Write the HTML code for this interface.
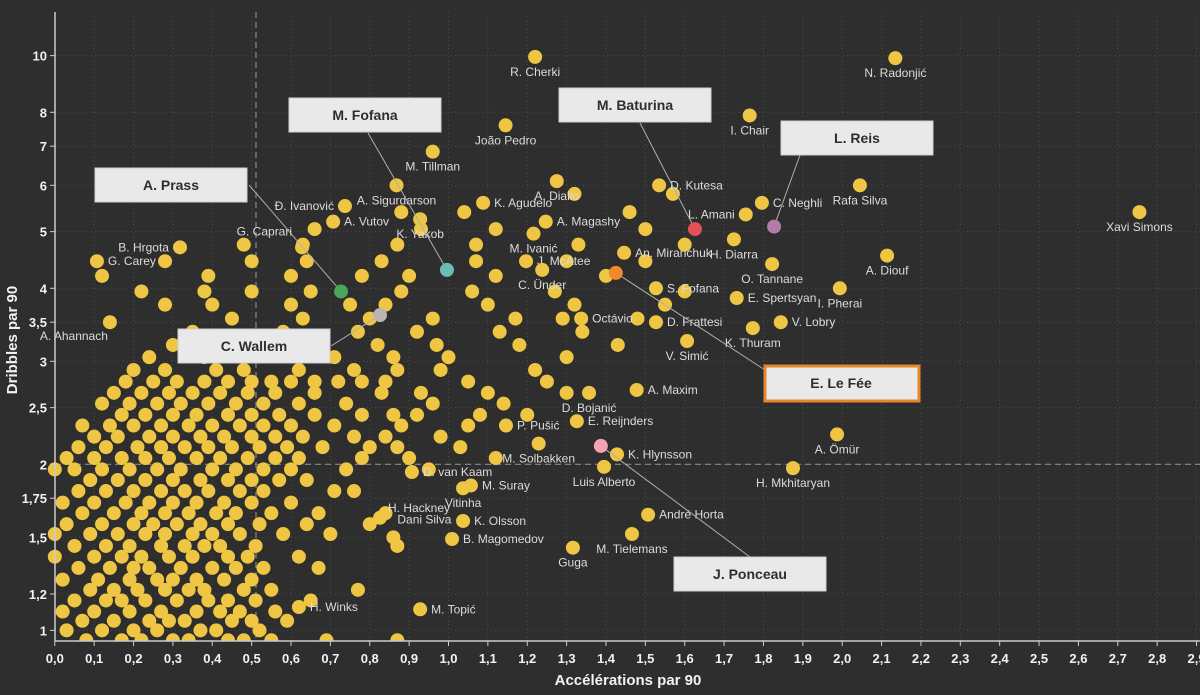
<!DOCTYPE html>
<html><head><meta charset="utf-8">
<style>
html,body{margin:0;padding:0;background:#2e2e2e;}
svg{display:block;font-family:"Liberation Sans",sans-serif;}
.tick{fill:#f2f2f2;font-weight:bold;font-size:13px;}
.plab{fill:#dcdcdc;font-size:12px;}
.box{fill:#e9e9e9;}
.boxt{fill:#2e2e2e;font-weight:bold;font-size:14px;text-anchor:middle;}
</style></head>
<body>
<svg id="chart" width="1200" height="695" viewBox="0 0 1200 695">
<rect width="1200" height="695" fill="#2e2e2e"/>
<defs><clipPath id="pc"><rect x="0" y="0" width="1200" height="641"/></clipPath></defs>
<g id="grid"></g>
<g id="ref"></g>
<g id="cloud" clip-path="url(#pc)"></g>
<g id="named"></g>
<g id="ann"></g>
<g id="axes"></g>
<text x="628" y="685" fill="#f2f2f2" font-weight="bold" font-size="15" text-anchor="middle">Accélérations par 90</text>
<text transform="translate(17,340) rotate(-90)" fill="#f2f2f2" font-weight="bold" font-size="15" text-anchor="middle">Dribbles par 90</text>
</svg>
<script>
const xTicks=[0,0.1,0.2,0.3,0.4,0.5,0.6,0.7,0.8,0.9,1,1.1,1.2,1.3,1.4,1.5,1.6,1.7,1.8,1.9,2,2.1,2.2,2.3,2.4,2.5,2.6,2.7,2.8,2.9];
const yTicks=[1.04,1.2,1.5,1.75,2,2.5,3,3.5,4,5,6,7,8,10];
const yTickLabels=["1","1,2","1,5","1,75","2","2,5","3","3,5","4","5","6","7","8","10"];
const refX=0.511, refY=2;
const cloudRows=[
[1.0,[0.08,0.17,0.22,0.3,0.34,0.44,0.48,0.55,0.69,0.87]],
[1.04,[0.03,0.12,0.2,0.26,0.37,0.41,0.52]],
[1.08,[0.07,0.15,0.24,0.29,0.33,0.45,0.5,0.59]],
[1.12,[0.02,0.1,0.19,0.27,0.36,0.42,0.47,0.56]],
[1.17,[0.05,0.13,0.17,0.23,0.31,0.39,0.44,0.51,0.65]],
[1.22,[0.09,0.15,0.21,0.28,0.34,0.38,0.48,0.55,0.77]],
[1.27,[0.02,0.11,0.19,0.26,0.3,0.36,0.43,0.5]],
[1.33,[0.06,0.14,0.2,0.24,0.32,0.4,0.46,0.53,0.67]],
[1.39,[0.0,0.1,0.17,0.22,0.29,0.35,0.44,0.49,0.62]],
[1.45,[0.05,0.13,0.19,0.27,0.33,0.38,0.42,0.51,0.87]],
[1.52,[0.0,0.09,0.16,0.23,0.28,0.35,0.4,0.47,0.58,0.7]],
[1.58,[0.03,0.12,0.2,0.25,0.31,0.37,0.44,0.52,0.64,0.8]],
[1.65,[0.07,0.15,0.22,0.28,0.34,0.41,0.46,0.55,0.67,0.84]],
[1.72,[0.02,0.1,0.18,0.24,0.3,0.36,0.43,0.5,0.6]],
[1.8,[0.06,0.13,0.2,0.27,0.33,0.39,0.47,0.53,0.71,0.76]],
[1.88,[0.09,0.16,0.23,0.3,0.37,0.44,0.5,0.57,0.64]],
[1.96,[0.0,0.05,0.12,0.19,0.26,0.32,0.4,0.46,0.53,0.6,0.74,0.95]],
[2.05,[0.03,0.1,0.17,0.23,0.29,0.36,0.42,0.49,0.56,0.62,0.78,0.9,1.12]],
[2.14,[0.06,0.13,0.21,0.27,0.33,0.39,0.45,0.52,0.59,0.68,0.8,0.87,1.03]],
[2.23,[0.1,0.16,0.24,0.3,0.37,0.43,0.5,0.56,0.63,0.76,0.84,0.98]],
[2.33,[0.07,0.14,0.2,0.27,0.34,0.4,0.47,0.53,0.6,0.71,0.88,1.05]],
[2.43,[0.17,0.23,0.3,0.36,0.44,0.5,0.57,0.66,0.78,0.86,0.92,1.08,1.2]],
[2.54,[0.12,0.19,0.26,0.32,0.39,0.46,0.53,0.62,0.74,0.96,1.14]],
[2.65,[0.15,0.22,0.29,0.35,0.42,0.49,0.56,0.66,0.83,0.93,1.1,1.3]],
[2.77,[0.18,0.25,0.31,0.38,0.44,0.5,0.55,0.6,0.66,0.72,0.78,0.84,1.05,1.25]],
[2.9,[0.2,0.28,0.41,0.48,0.62,0.76,0.87,0.98,1.22]],
[3.05,[0.24,0.38,0.62,0.71,0.86,1.0,1.3]],
[3.2,[0.3,0.46,0.66,0.82,0.97,1.18,1.43]],
[3.37,[0.35,0.58,0.77,0.92,1.13,1.34]],
[3.55,[0.45,0.63,0.8,0.96,1.17,1.29,1.48]],
[3.75,[0.28,0.4,0.6,0.75,0.84,1.1,1.32,1.55]],
[3.95,[0.22,0.38,0.5,0.65,0.88,1.06,1.27,1.6]],
[4.2,[0.12,0.39,0.6,0.78,0.9,1.12,1.4]],
[4.45,[0.28,0.5,0.64,0.83,1.07,1.3,1.5]],
[4.75,[0.48,0.63,0.87,1.07,1.33,1.6]],
[5.05,[0.66,0.93,1.12,1.5]],
[5.4,[0.88,1.04,1.46]],
[5.8,[1.32,1.57]]
];
const names=["R. Cherki","N. Radonjić","I. Chair","João Pedro","M. Tillman","D. Kutesa","Rafa Silva","A. Diallo","Xavi Simons","A. Sigurdarson","Đ. Ivanović","A. Vutov","K. Agudelo","K. Yakob","A. Magashy","C. Neghli","L. Amani","G. Caprari","B. Hrgota","G. Carey","A. Ahannach","M. Ivanić","H. Diarra","An. Miranchuk","A. Diouf","O. Tannane","J. McAtee","C. Ünder","S. Fofana","E. Spertsyan","I. Pherai","Octávio","D. Frattesi","V. Lobry","K. Thuram","V. Simić","D. Bojanić","A. Maxim","E. Reijnders","P. Pušić","K. Hlynsson","M. Solbakken","A. Ömür","H. Mkhitaryan","D. van Kaam","Luis Alberto","M. Suray","Vitinha","H. Hackney","Dani Silva","K. Olsson","André Horta","B. Magomedov","Guga","M. Tielemans","H. Winks","M. Topić"];
const nameX=[1.22,2.135,1.765,1.145,0.96,1.535,2.045,1.275,2.755,0.868,0.737,0.707,1.088,0.928,1.247,1.796,1.755,0.628,0.318,0.107,0.14,1.216,1.725,1.446,2.114,1.822,1.197,1.238,1.527,1.732,1.994,1.337,1.527,1.844,1.773,1.606,1.357,1.478,1.326,1.146,1.428,1.229,1.987,1.875,0.907,1.395,1.057,1.037,0.826,0.86,1.037,1.507,1.009,1.316,1.466,0.62,0.928];
const nameY=[9.95,9.9,7.9,7.6,6.85,6.0,6.0,6.1,5.4,6.0,5.53,5.2,5.6,5.25,5.2,5.6,5.35,4.7,4.7,4.45,3.5,4.96,4.85,4.6,4.55,4.4,4.45,4.3,4.0,3.85,4.0,3.55,3.5,3.5,3.42,3.25,2.65,2.68,2.37,2.33,2.08,2.17,2.25,1.97,1.94,1.98,1.84,1.82,1.62,1.5,1.6,1.64,1.49,1.44,1.52,1.14,1.13];
const nameAnchor=["b","b","b","b","b","r","b","b","b","b","l","r","r","b","r","r","l","ul","l","r","bl","b","b","r","b","b","r","b","r","r","b","r","r","r","b","b","b","r","r","r","r","b","b","b","r","b","r","b","ur","u","r","r","r","b","b","r","r"];
const hiNames=["A. Prass","M. Fofana","M. Baturina","L. Reis","C. Wallem","E. Le Fée","J. Ponceau"];
const hiX=[0.727,0.996,1.626,1.827,0.826,1.425,1.387];
const hiY=[3.95,4.3,5.05,5.1,3.6,4.25,2.15];
const hiColor=["#4aa55a","#6bbcb4","#e05258","#b47aa8","#bdb3b1","#f08a2a","#f5a3b3"];
const boxX=[95,289,559,781,178,765,674], boxY=[168,98,88,121,329,366,557];
const lineFromX=[249,368,640,800,331,765,750], lineFromY=[185,133,123,155,346,370,557];

const NS="http://www.w3.org/2000/svg";
const X=v=>54.8+393.7*v;
const Y=v=>464.3-584.7*Math.log10(v/2);
function mk(tag,attrs,parent){const e=document.createElementNS(NS,tag);for(const k in attrs)e.setAttribute(k,attrs[k]);parent.appendChild(e);return e;}
const grid=document.getElementById('grid'),axes=document.getElementById('axes'),cloud=document.getElementById('cloud'),named=document.getElementById('named'),ann=document.getElementById('ann'),ref=document.getElementById('ref');
const DOT="#eec643";
xTicks.forEach((t,i)=>{
  const x=X(t);
  const g=mk('line',{x1:x,x2:x,y1:12,y2:641,stroke:'#4a4a4a','stroke-dasharray':'1,3'},grid);
  
  
  const tk=mk('line',{x1:x,x2:x,y1:641,y2:646,stroke:'#ccc'},axes);
  
  
  const tx=mk('text',{x:x,y:663,'text-anchor':'middle',class:'tick'},axes);
  tx.textContent=t.toFixed(1).replace('.',',');
  
  
});
yTicks.forEach((t,i)=>{
  const y=Y(t);
  const g=mk('line',{x1:55,x2:1200,y1:y,y2:y,stroke:'#4a4a4a','stroke-dasharray':'1,3'},grid);
  
  
  const tk=mk('line',{x1:50,x2:55,y1:y,y2:y,stroke:'#ccc'},axes);
  
  
  const tx=mk('text',{x:47,y:y+5,'text-anchor':'end',class:'tick'},axes);
  tx.textContent=yTickLabels[i];
  
  
});
const ax1=mk('line',{x1:55,x2:55,y1:12,y2:641,stroke:'#ccc','stroke-width':1.5},axes);


const ax2=mk('line',{x1:55,x2:1200,y1:641,y2:641,stroke:'#ccc','stroke-width':1.5},axes);


const rx=mk('line',{x1:X(refX),x2:X(refX),y1:12,y2:641,stroke:'#8a8a8a','stroke-dasharray':'6,4','stroke-width':1.2},ref);


const ry=mk('line',{x1:55,x2:1200,y1:Y(refY),y2:Y(refY),stroke:'#8a8a8a','stroke-dasharray':'6,4','stroke-width':1.2},ref);



cloudRows.forEach(r=>{r[1].forEach(v=>{
  const c=mk('circle',{cx:X(v),cy:Y(r[0]),r:7,fill:DOT},cloud);
  
  
});});
names.forEach((n,i)=>{
  const x=X(nameX[i]),y=Y(nameY[i]);
  const c=mk('circle',{cx:x,cy:y,r:7,fill:DOT},named);
  
  
  const a=nameAnchor[i];let lx=x+11,ly=y+4,an='start';
  if(a==='b'){lx=x;ly=y+19;an='middle';}
  else if(a==='l'){lx=x-11;an='end';}
  else if(a==='ul'){lx=x-10;ly=y-12;an='end';}
  else if(a==='bl'){lx=x-2;ly=y+18;an='end';}
  else if(a==='ur'){lx=x+8;ly=y-6;}
  else if(a==='u'){lx=x+4;ly=y-14;}
  const t=mk('text',{x:lx,y:ly,'text-anchor':an,class:'plab'},named);
  t.textContent=n;
  
  
});
hiNames.forEach((n,i)=>{
  const x=X(hiX[i]),y=Y(hiY[i]);
  const l=mk('line',{x1:lineFromX[i],y1:lineFromY[i],x2:x,y2:y,stroke:'#b0b0b0','stroke-width':1},ann);
  
  
  const c=mk('circle',{cx:x,cy:y,r:7,fill:hiColor[i]},ann);
  
  
  const isLF=n==='E. Le Fée';
  const b=mk('rect',{x:boxX[i],y:boxY[i],width:isLF?154:152,height:isLF?35:34,class:'box',stroke:isLF?'#e8862a':'#cfcfcf','stroke-width':isLF?3:1},ann);
  
  
  const t=mk('text',{x:boxX[i]+76,y:boxY[i]+22,class:'boxt'},ann);
  t.textContent=n;
  
  
});
</script>
</body></html>
